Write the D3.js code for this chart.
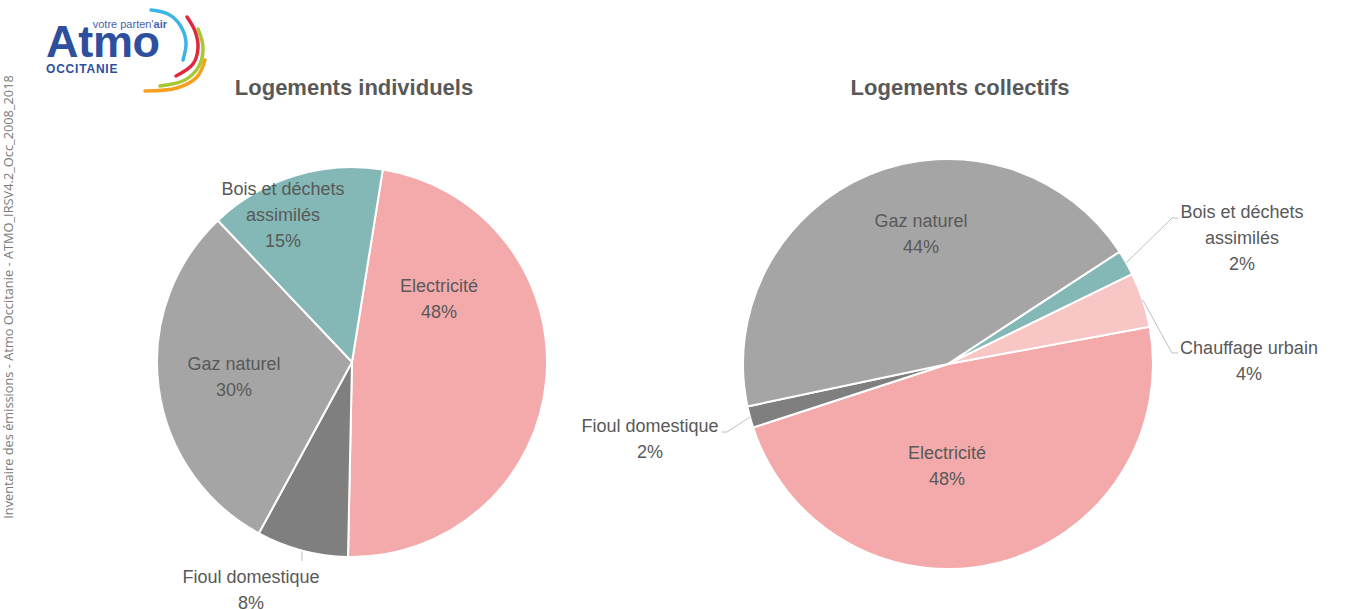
<!DOCTYPE html>
<html><head><meta charset="utf-8">
<script src="https://cdn.jsdelivr.net/npm/d3@7"></script>
<style>
html,body{margin:0;padding:0;background:#fff;}
svg{display:block;}
</style></head>
<body>
<svg id="chart" width="1356" height="610"></svg>
<script>
// ---- Data ----
const indivCategories = ["Electricité", "Fioul domestique", "Gaz naturel", "Bois et déchets assimilés"];
const indivValues = [47.8, 7.6, 30.0, 14.6];
const collCategories = ["Electricité", "Fioul domestique", "Gaz naturel", "Bois et déchets assimilés", "Chauffage urbain"];
const collValues = [47.9, 1.7, 44.1, 2.0, 4.3];
const titles = ["Logements individuels", "Logements collectifs"];
const sourceText = "Inventaire des émissions - Atmo Occitanie - ATMO_IRSV4.2_Occ_2008_2018";

// ---- Style / layout ----
const colors = {
  "Electricité": "#f4aaaa",
  "Fioul domestique": "#7f7f7f",
  "Gaz naturel": "#a5a5a5",
  "Bois et déchets assimilés": "#83b8b6",
  "Chauffage urbain": "#f8c6c5"
};
const labelColor = "#595959";
const svg = d3.select("#chart");
const font = "Arial, 'Liberation Sans', sans-serif";

const pies = [
  {
    cats: indivCategories, vals: indivValues, title: titles[0],
    cx: 352, cy: 362, r: 195, start: 9.1, titleX: 354,
    labels: {
      "Electricité": {dx: 87, dy: -64, lines: ["Electricité"]},
      "Fioul domestique": {dx: -101, dy: 227, lines: ["Fioul domestique"], leader: [[0, 561]], leaderX: true},
      "Gaz naturel": {dx: -118, dy: 14, lines: ["Gaz naturel"]},
      "Bois et déchets assimilés": {dx: -69, dy: -148, lines: ["Bois et déchets", "assimilés"]}
    }
  },
  {
    cats: collCategories, vals: collValues, title: titles[1],
    cx: 948, cy: 364, r: 205, start: 79.5, titleX: 960,
    labels: {
      "Electricité": {dx: -1, dy: 101, lines: ["Electricité"]},
      "Fioul domestique": {dx: -298, dy: 74, lines: ["Fioul domestique"], leader: [[722, 432], [727, 432]]},
      "Gaz naturel": {dx: -27, dy: -131, lines: ["Gaz naturel"]},
      "Bois et déchets assimilés": {dx: 294, dy: -127, lines: ["Bois et déchets", "assimilés"], leader: [[1178, 218], [1172, 218]]},
      "Chauffage urbain": {dx: 301, dy: -4, lines: ["Chauffage urbain"], leader: [[1178, 353], [1172, 353]]}
    }
  }
];

const lineH = 26;

pies.forEach(p => {
  const data = p.cats.map((c, i) => ({cat: c, val: p.vals[i]}));
  const a0 = p.start * Math.PI / 180;
  const pie = d3.pie().value(d => d.val).sort(null).startAngle(a0).endAngle(a0 + 2 * Math.PI);
  const arcs = pie(data);
  const arc = d3.arc().innerRadius(0).outerRadius(p.r);
  const g = svg.append("g").attr("transform", `translate(${p.cx},${p.cy})`);
  g.selectAll("path.slice").data(arcs).join("path")
    .attr("class", "slice")
    .attr("d", arc)
    .attr("fill", d => colors[d.data.cat])
    .attr("stroke", "#fff")
    .attr("stroke-width", 2)
    .attr("stroke-linejoin", "round");

  const total = d3.sum(p.vals);
  arcs.forEach(d => {
    const L = p.labels[d.data.cat];
    const lines = L.lines.concat([Math.round(d.data.val / total * 100) + "%"]);
    const n = lines.length;
    const x = p.cx + L.dx, yc = p.cy + L.dy;
    const t = svg.append("text")
      .attr("text-anchor", "middle")
      .attr("font-family", font)
      .attr("font-size", 18)
      .attr("fill", labelColor);
    lines.forEach((s, i) => {
      t.append("tspan").attr("x", x)
        .attr("y", yc + (i - (n - 1) / 2) * lineH + 6.5)
        .text(s);
    });
    if (L.leader) {
      const mid = (d.startAngle + d.endAngle) / 2;
      const ex = p.cx + p.r * Math.sin(mid), ey = p.cy - p.r * Math.cos(mid);
      let pts;
      if (L.leaderX) {
        pts = [[ex, ey + 1], [ex, L.leader[0][1]]];
      } else {
        pts = L.leader.concat([[ex, ey]]);
      }
      svg.append("path")
        .attr("d", d3.line()(pts))
        .attr("fill", "none")
        .attr("stroke", "#bfbfbf")
        .attr("stroke-width", 1);
    }
  });

  svg.append("text")
    .attr("x", p.titleX).attr("y", 95)
    .attr("text-anchor", "middle")
    .attr("font-family", font)
    .attr("font-size", 22)
    .attr("font-weight", "bold")
    .attr("fill", labelColor)
    .text(p.title);
});

// ---- Source text (vertical) ----
svg.append("text")
  .attr("transform", "translate(13,297) rotate(-90)")
  .attr("text-anchor", "middle")
  .attr("font-family", "'Open Sans', sans-serif")
  .attr("font-size", 12.8)
  .attr("fill", "#7a7a7a")
  .text(sourceText);

// ---- Logo ----
const logo = svg.append("g");
logo.append("text").attr("x", 46).attr("y", 57)
  .attr("font-family", font).attr("font-weight", "bold").attr("font-size", 45)
  .attr("fill", "#2d4f9e").attr("letter-spacing", -0.3).text("Atmo");
const vt = logo.append("text").attr("x", 167).attr("y", 28).attr("text-anchor", "end")
  .attr("font-family", font).attr("font-size", 11).attr("fill", "#4563ad");
vt.append("tspan").text("votre parten'");
vt.append("tspan").attr("font-weight", "bold").text("air");
logo.append("text").attr("x", 46).attr("y", 73)
  .attr("font-family", font).attr("font-weight", "bold").attr("font-size", 12)
  .attr("letter-spacing", 0.8).attr("fill", "#2d4f9e").text("OCCITANIE");
const swoosh = [
  {c: "#3cb5e6", pts: [[151, 10], [168, 14], [180, 25], [186, 42], [183, 60]]},
  {c: "#e2283c", pts: [[187, 17], [195, 31], [198, 48], [193, 64], [176, 76]]},
  {c: "#a7c834", pts: [[198, 29], [203, 47], [199, 66], [185, 80], [160, 86]]},
  {c: "#f5a01e", pts: [[205, 60], [197, 77], [177, 88], [145, 91]]}
];
swoosh.forEach(s => {
  logo.append("path").attr("d", d3.line().curve(d3.curveCatmullRom)(s.pts))
    .attr("fill", "none").attr("stroke", s.c).attr("stroke-width", 3.5)
    .attr("stroke-linecap", "round");
});
</script>
</body></html>
